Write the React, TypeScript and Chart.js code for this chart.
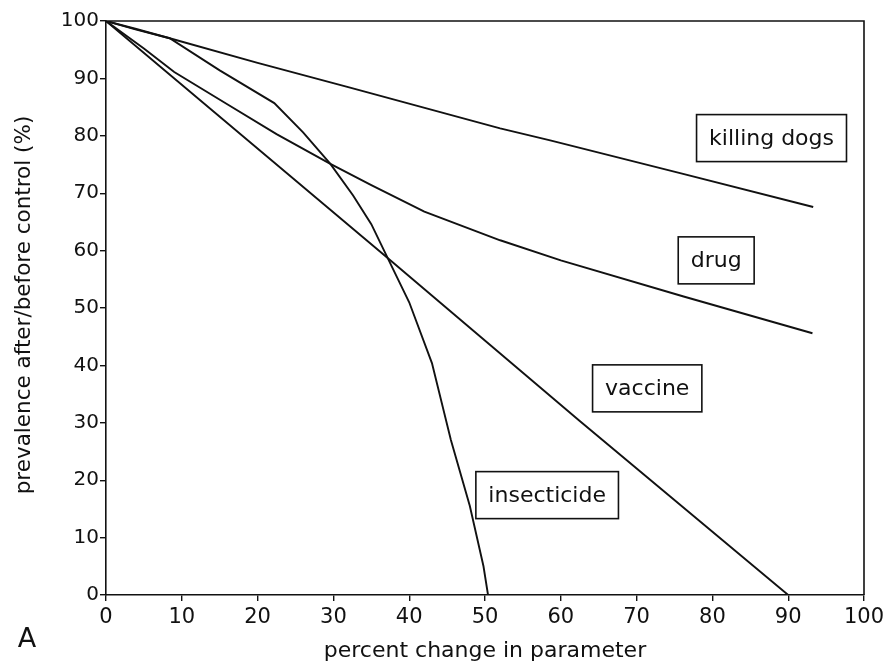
import React, { useEffect, useRef } from "react";
import { Chart, registerables } from "chart.js";

Chart.register(...registerables);

// ---- data ----
const killingX = [0, 4, 8.4, 20, 32.2, 52, 58.6, 76, 93.3];
const killingY = [100, 98.6, 97, 92.7, 88.4, 81.3, 79.2, 73.4, 67.6];

const drugX = [0, 5, 9, 16, 22.5, 29.6, 35, 42, 52, 60, 76.2, 93.2];
const drugY = [100, 95.2, 91.1, 85.5, 80.3, 75.1, 71.4, 66.8, 61.8, 58.3, 52.0, 45.6];

const vaccineX = [0, 37, 62.5, 90];
const vaccineY = [100, 58.9, 30.3, 0];

const insectX = [0, 4, 8.4, 15, 22.2, 26, 29.6, 32.6, 35, 37.2, 40, 43, 45.5, 48, 49.8, 50.4];
const insectY = [100, 98.5, 97, 91.4, 85.7, 80.6, 75.1, 69.6, 64.6, 58.6, 51, 40.4, 27, 15.5, 5, 0];

const labelTexts = ["killing dogs", "drug", "vaccine", "insecticide"];
const labelX = [87.8, 80.5, 71.4, 58.2];
const labelY = [79.6, 58.3, 36.0, 17.4];

const xTitle = "percent change in parameter";
const yTitle = "prevalence after/before control (%)";
const panelLetter = "A";

const INK = "#111";
const FONT = "DejaVu Sans";

function pts(xs: number[], ys: number[]) {
  return xs.map((x, i) => ({ x, y: ys[i] }));
}

const decorPlugin = {
  id: "decor",
  afterDraw(chart: any) {
    const { ctx, chartArea, scales } = chart;
    const xs = scales.x;
    const ys = scales.y;
    ctx.save();
    // frame (top & right)
    ctx.strokeStyle = INK;
    ctx.lineWidth = 1.6;
    ctx.beginPath();
    ctx.moveTo(chartArea.left, chartArea.top);
    ctx.lineTo(chartArea.right, chartArea.top);
    ctx.lineTo(chartArea.right, chartArea.bottom);
    ctx.stroke();

    // label boxes
    ctx.font = `22px "${FONT}"`;
    ctx.textAlign = "center";
    ctx.textBaseline = "middle";
    labelTexts.forEach((t, i) => {
      const cx = xs.getPixelForValue(labelX[i]);
      const cy = ys.getPixelForValue(labelY[i]);
      const w = ctx.measureText(t).width + 25;
      const h = 47;
      ctx.fillStyle = "#fff";
      ctx.fillRect(cx - w / 2, cy - h / 2, w, h);
      ctx.strokeStyle = INK;
      ctx.lineWidth = 1.6;
      ctx.strokeRect(cx - w / 2, cy - h / 2, w, h);
      ctx.fillStyle = INK;
      ctx.fillText(t, cx, cy + 1);
    });

    // axis titles
    ctx.fillStyle = INK;
    ctx.font = `22px "${FONT}"`;
    ctx.textAlign = "center";
    ctx.textBaseline = "middle";
    ctx.fillText(xTitle, (chartArea.left + chartArea.right) / 2, 651);

    ctx.save();
    ctx.translate(24, 305);
    ctx.rotate(-Math.PI / 2);
    ctx.font = `21.5px "${FONT}"`;
    ctx.fillText(yTitle, 0, 0);
    ctx.restore();

    ctx.font = `27px "${FONT}"`;
    ctx.fillText(panelLetter, 27, 640);
    ctx.restore();
  },
};

export default function App() {
  const ref = useRef<HTMLCanvasElement | null>(null);

  useEffect(() => {
    if (!ref.current) return;
    const lineStyle = {
      borderColor: INK,
      borderWidth: 1.9,
      pointRadius: 0,
      showLine: true,
      fill: false,
      tension: 0,
    };
    const chart = new Chart(ref.current, {
      type: "scatter",
      data: {
        datasets: [
          { label: "killing dogs", data: pts(killingX, killingY), ...lineStyle },
          { label: "drug", data: pts(drugX, drugY), ...lineStyle },
          { label: "vaccine", data: pts(vaccineX, vaccineY), ...lineStyle },
          { label: "insecticide", data: pts(insectX, insectY), ...lineStyle },
        ],
      },
      options: {
        responsive: false,
        animation: false,
        layout: { padding: { top: 21, right: 25, left: 0, bottom: 0 } },
        plugins: {
          legend: { display: false },
          tooltip: { enabled: false },
        },
        scales: {
          x: {
            type: "linear",
            min: 0,
            max: 100,
            ticks: {
              stepSize: 10,
              color: INK,
              font: { family: FONT, size: 21 },
              padding: 4,
              maxRotation: 0,
            },
            grid: {
              display: true,
              drawOnChartArea: false,
              drawTicks: true,
              tickLength: 6,
              color: INK,
              lineWidth: 1.4,
            },
            border: { display: true, color: INK, width: 1.6 },
            afterFit: (s: any) => {
              s.height = 71;
            },
          },
          y: {
            type: "linear",
            min: 0,
            max: 100,
            ticks: {
              stepSize: 10,
              color: INK,
              font: { family: FONT, size: 20 },
              padding: 1,
            },
            grid: {
              display: true,
              drawOnChartArea: false,
              drawTicks: true,
              tickLength: 6,
              color: INK,
              lineWidth: 1.4,
            },
            border: { display: true, color: INK, width: 1.6 },
            afterFit: (s: any) => {
              s.width = 106;
            },
          },
        },
      },
      plugins: [decorPlugin],
    } as any);
    return () => chart.destroy();
  }, []);

  return (
    <div style={{ position: "fixed", left: 0, top: 0, width: 889, height: 666, background: "#fff" }}>
      <canvas ref={ref} width={889} height={666} style={{ display: "block" }} />
    </div>
  );
}
